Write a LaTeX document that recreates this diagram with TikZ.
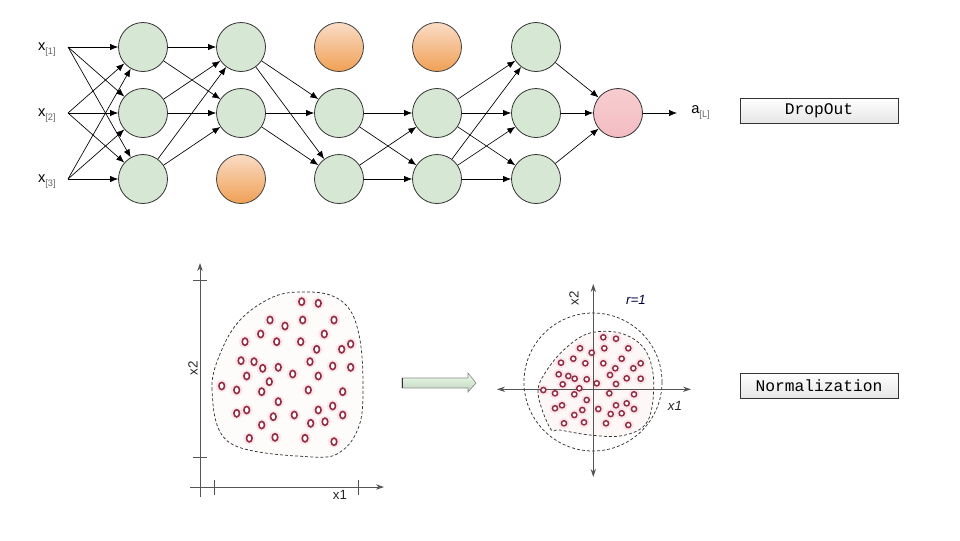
\documentclass[tikz,border=0pt]{standalone}
\usepackage{fontspec}
\setmainfont{Liberation Sans}
\newfontfamily\monofont{Liberation Mono}
\usetikzlibrary{arrows.meta}
\definecolor{ngreen}{HTML}{D6E7D3}
\definecolor{norangeT}{HTML}{FADCC6}
\definecolor{norangeB}{HTML}{F0A055}
\definecolor{npinkT}{HTML}{F7CDD0}
\definecolor{npinkB}{HTML}{F3BCC2}
\definecolor{ptred}{HTML}{922E44}
\definecolor{pthalo}{HTML}{F8C8D2}
\definecolor{axisgray}{HTML}{555555}
\begin{document}
\begin{tikzpicture}[x=0.75pt,y=-0.75pt,
  neuron/.style={circle,draw=black!80,line width=0.6pt,minimum size=36.75pt,inner sep=0pt},
  green/.style={neuron,fill=ngreen},
  drop/.style={neuron,top color=norangeT,bottom color=norangeB,draw=black!75},
  outn/.style={neuron,top color=npinkT,bottom color=npinkB},
  conn/.style={-{Latex[length=6pt,width=4.8pt]},line width=0.5pt},
  inlab/.style={font=\fontsize{11}{13}\selectfont,inner sep=0pt},
  box/.style={draw=black!80,line width=0.6pt,top color=white,bottom color=black!10,
    minimum width=118.5pt,minimum height=18.75pt,inner sep=0pt,
    font=\monofont\fontsize{12.2}{14}\selectfont},
  blob/.style={dash pattern=on 2.2pt off 1.6pt,line width=0.55pt,draw=black!80},
  axis/.style={draw=axisgray,line width=0.6pt},
  axlab/.style={font=\fontsize{10}{12}\selectfont,inner sep=0pt,text=black!85}
]
\useasboundingbox (0,0) rectangle (960,540);
\newcommand{\subx}[1]{\raisebox{-3pt}{\fontsize{7}{8}\selectfont\color{black!60}#1}}

% ---------- network ----------
\foreach \i/\y in {1/47,2/113,3/179}{
  \coordinate (in\i) at (68,\y);
  \node[inlab,anchor=east] (lab\i) at (56,\y+3) {x\subx{[\i]}};
}
\node[green] (c11) at (143,47) {};
\node[green] (c12) at (143,113) {};
\node[green] (c13) at (143,179) {};
\node[green] (c21) at (241,47) {};
\node[green] (c22) at (241,113) {};
\node[drop]  (c23) at (241,179) {};
\node[drop]  (c31) at (339,47) {};
\node[green] (c32) at (339,113) {};
\node[green] (c33) at (339,179) {};
\node[drop]  (c41) at (437,47) {};
\node[green] (c42) at (437,113) {};
\node[green] (c43) at (437,179) {};
\node[green] (c51) at (536,47) {};
\node[green] (c52) at (536,113) {};
\node[green] (c53) at (536,179) {};
\node[outn]  (o)   at (618,113) {};

\foreach \a in {1,2,3}{\foreach \b in {1,2,3}{\draw[conn] (in\a) -- (c1\b);}}
\foreach \a in {1,2,3}{\foreach \b in {1,2}{\draw[conn] (c1\a) -- (c2\b);}}
\foreach \a in {1,2}{\foreach \b in {2,3}{\draw[conn] (c2\a) -- (c3\b);}}
\foreach \a in {2,3}{\foreach \b in {2,3}{\draw[conn] (c3\a) -- (c4\b);}}
\foreach \a in {2,3}{\foreach \b in {1,2,3}{\draw[conn] (c4\a) -- (c5\b);}}
\foreach \a in {1,2,3}{\draw[conn] (c5\a) -- (o);}
\coordinate (oend) at (677,113);
\draw[conn] (o) -- (oend);
\node[inlab,anchor=west] (alab) at (691,113) {a\subx{[L]}};

\node[box] (dropout) at (819,110.5) {DropOut};
\node[box] (norm) at (819,385.5) {Normalization};

% ---------- left plot ----------
\coordinate (ya) at (200,497);
\coordinate (yb) at (200,263);
\coordinate (xa) at (190,487);
\coordinate (xb) at (384,487);
\draw[axis,-{Stealth[length=6pt,width=4pt]}] (ya) -- (yb);
\draw[axis,-{Stealth[length=6pt,width=4pt]}] (xa) -- (xb);
\draw[axis] (193,280) -- (207,280);
\draw[axis] (193,457) -- (207,457);
\draw[axis] (214,480) -- (214,495);
\draw[axis] (358,480) -- (358,495);
\node[axlab,rotate=90] (lx2) at (193,368) {x2};
\node[axlab] (lx1) at (340,495) {x1};

\fill[pthalo!8] plot[smooth cycle,tension=0.6] coordinates {(230,443) (212,390) (223,347) (243,317) (273,297) (300,292) (330,295) (350,310) (360,340) (363,383) (360,423) (343,450) (313,457)};
\foreach \p in {(301.7,301.7),(318.3,303.3),(270,320),(285,326),(302.7,320),(334,320),(260.7,334),(324.3,334),(245,341.7),(276.7,341.7),(300.7,341.7),(316.7,349.3),(341.7,349.3),(350.7,344),(241,360.7),(254,361.7),(262.7,368.3),(278.3,367.3),(310,361.7),(332.7,366),(350.7,367.3),(246.7,376),(292.7,374),(318.3,376),(269.3,381.7),(221.7,386),(236.7,390),(261.7,391.7),(308.3,390),(342.7,391.7),(278.3,401.7),(236.7,413.3),(246.7,410),(273.3,416.7),(294.3,415),(318.3,410),(332.7,406),(342.7,415),(310.7,423.3),(325,421.7),(261.7,425),(249.3,438.3),(275,437.3),(305,438.3),(334,441.7)}{
  \fill[pthalo,opacity=0.4] \p circle[radius=6];
}
\foreach \p in {(301.7,301.7),(318.3,303.3),(270,320),(285,326),(302.7,320),(334,320),(260.7,334),(324.3,334),(245,341.7),(276.7,341.7),(300.7,341.7),(316.7,349.3),(341.7,349.3),(350.7,344),(241,360.7),(254,361.7),(262.7,368.3),(278.3,367.3),(310,361.7),(332.7,366),(350.7,367.3),(246.7,376),(292.7,374),(318.3,376),(269.3,381.7),(221.7,386),(236.7,390),(261.7,391.7),(308.3,390),(342.7,391.7),(278.3,401.7),(236.7,413.3),(246.7,410),(273.3,416.7),(294.3,415),(318.3,410),(332.7,406),(342.7,415),(310.7,423.3),(325,421.7),(261.7,425),(249.3,438.3),(275,437.3),(305,438.3),(334,441.7)}{
  \draw[ptred,line width=1.2pt,fill=white] \p ellipse[x radius=2.8,y radius=3.6];
}
\draw[blob] plot[smooth cycle,tension=0.6] coordinates {(230,443) (212,390) (223,347) (243,317) (273,297) (300,292) (330,295) (350,310) (360,340) (363,383) (360,423) (343,450) (313,457)};

% ---------- block arrow ----------
\shade[top color=green!8!white,bottom color=green!30!black!25!white,draw=black!45,line width=0.5pt]
  (402,378) -- (468,378) -- (468,373) -- (476,383) -- (468,392) -- (468,388) -- (402,388) -- cycle;
\draw[black!80,line width=1.2pt] (402.5,378) -- (402.5,388);

% ---------- right plot ----------
\fill[pthalo!15] plot[smooth cycle,tension=0.6] coordinates {(550,428) (538,393) (547,370) (567,347) (590,333) (620,333) (643,347) (653,373) (652,407) (643,427) (620,436) (590,435) (560,430)};
\foreach \p in {(603.3,337.3),(616,338.7),(580,348.3),(591.7,352.7),(604.3,348.3),(628.3,348.3),(561,362.7),(573.3,358.7),(585.3,363.3),(603.3,363.3),(621.7,358.7),(633.3,368.3),(640.7,363.3),(615.3,368.3),(558.7,374.3),(568.3,376),(574.7,378.7),(586.7,379.3),(610,375),(626.7,378.3),(640.7,378.7),(562.7,384.3),(579.3,388.3),(596.7,383.3),(616,384),(543.3,390),(555,393.3),(574.3,394.3),(609.3,393.3),(634,394.3),(586.7,400),(555,408.3),(562,405.3),(582.3,410),(598.3,409),(616,405.3),(626.7,403.3),(634,409),(610.7,414),(621.7,413.3),(574.3,415),(564,423.3),(584,422.3),(606,423.3),(628.3,425)}{
  \fill[pthalo,opacity=0.4] \p circle[radius=5.5];
}
\draw[blob] (593,382) circle[radius=69];
\draw[blob] plot[smooth cycle,tension=0.6] coordinates {(550,428) (538,393) (547,370) (567,347) (590,333) (620,333) (643,347) (653,373) (652,407) (643,427) (620,436) (590,435) (560,430)};
\coordinate (rya) at (593.3,477);
\coordinate (ryb) at (593.3,284);
\coordinate (rxa) at (497,389.3);
\coordinate (rxb) at (691,389.3);
\draw[axis,{Stealth[length=6pt,width=4pt]}-{Stealth[length=6pt,width=4pt]}] (rya) -- (ryb);
\draw[axis,{Stealth[length=6pt,width=4pt]}-{Stealth[length=6pt,width=4pt]}] (rxa) -- (rxb);
\foreach \p in {(603.3,337.3),(616,338.7),(580,348.3),(591.7,352.7),(604.3,348.3),(628.3,348.3),(561,362.7),(573.3,358.7),(585.3,363.3),(603.3,363.3),(621.7,358.7),(633.3,368.3),(640.7,363.3),(615.3,368.3),(558.7,374.3),(568.3,376),(574.7,378.7),(586.7,379.3),(610,375),(626.7,378.3),(640.7,378.7),(562.7,384.3),(579.3,388.3),(596.7,383.3),(616,384),(543.3,390),(555,393.3),(574.3,394.3),(609.3,393.3),(634,394.3),(586.7,400),(555,408.3),(562,405.3),(582.3,410),(598.3,409),(616,405.3),(626.7,403.3),(634,409),(610.7,414),(621.7,413.3),(574.3,415),(564,423.3),(584,422.3),(606,423.3),(628.3,425)}{
  \draw[ptred,line width=1.1pt,fill=white] \p circle[radius=2.6];
}
\node[axlab,rotate=90] (rlx2) at (574,298) {x2};
\node[axlab,text=black!75!blue] (rlr) at (636,300) {\itshape r=1};
\node[axlab] (rlx1) at (675,406) {\itshape x1};
\end{tikzpicture}
\end{document}
